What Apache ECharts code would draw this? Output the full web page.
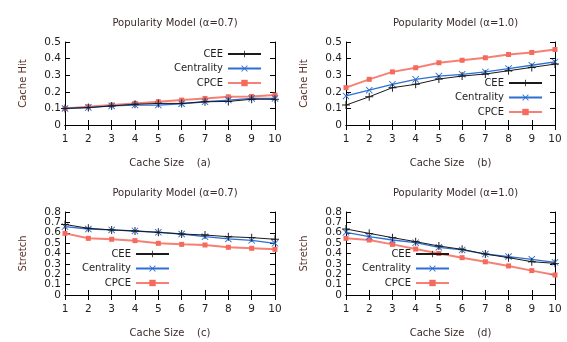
<!DOCTYPE html>
<html><head><meta charset="utf-8">
<script src="https://cdn.jsdelivr.net/npm/echarts@6/dist/echarts.min.js"></script>
<style>html,body{margin:0;padding:0;background:#fff}#c{width:567px;height:342px}</style>
</head><body><div id="c"></div>
<script>
const cacheSizes = [1, 2, 3, 4, 5, 6, 7, 8, 9, 10];
const seriesNames = ['CEE', 'Centrality', 'CPCE'];
const panelTitles = ['Popularity Model (α=0.7)', 'Popularity Model (α=1.0)', 'Popularity Model (α=0.7)', 'Popularity Model (α=1.0)'];
const panelLetters = ['(a)', '(b)', '(c)', '(d)'];
const yNames = ['Cache Hit', 'Cache Hit', 'Stretch', 'Stretch'];
const hitTicks = [0, 0.1, 0.2, 0.3, 0.4, 0.5];
const stretchTicks = [0, 0.1, 0.2, 0.3, 0.4, 0.5, 0.6, 0.7, 0.8];
const yTicks = [hitTicks, hitTicks, stretchTicks, stretchTicks];

// (a) Cache hit, alpha = 0.7
const hitA_CEE = [0.10, 0.105, 0.115, 0.125, 0.13, 0.13, 0.14, 0.142, 0.155, 0.155];
const hitA_Centrality = [0.10, 0.105, 0.115, 0.12, 0.12, 0.128, 0.14, 0.15, 0.16, 0.16];
const hitA_CPCE = [0.10, 0.11, 0.12, 0.13, 0.14, 0.15, 0.16, 0.17, 0.172, 0.18];
// (b) Cache hit, alpha = 1.0
const hitB_CEE = [0.12, 0.17, 0.225, 0.245, 0.277, 0.295, 0.307, 0.327, 0.347, 0.367];
const hitB_Centrality = [0.175, 0.21, 0.245, 0.275, 0.295, 0.305, 0.32, 0.34, 0.36, 0.38];
const hitB_CPCE = [0.225, 0.275, 0.32, 0.345, 0.375, 0.39, 0.405, 0.425, 0.437, 0.455];
// (c) Stretch, alpha = 0.7
const strC_CEE = [0.68, 0.643, 0.627, 0.617, 0.604, 0.588, 0.578, 0.562, 0.553, 0.537];
const strC_Centrality = [0.66, 0.636, 0.627, 0.617, 0.604, 0.588, 0.562, 0.54, 0.527, 0.498];
const strC_CPCE = [0.594, 0.546, 0.537, 0.524, 0.498, 0.488, 0.482, 0.46, 0.45, 0.44];
// (d) Stretch, alpha = 1.0
const strD_CEE = [0.636, 0.594, 0.553, 0.514, 0.472, 0.44, 0.395, 0.36, 0.321, 0.305];
const strD_Centrality = [0.604, 0.562, 0.53, 0.504, 0.46, 0.434, 0.395, 0.37, 0.344, 0.315];
const strD_CPCE = [0.546, 0.53, 0.488, 0.443, 0.40, 0.36, 0.32, 0.28, 0.235, 0.193];

const panelData = [
  [hitA_CEE, hitA_Centrality, hitA_CPCE],
  [hitB_CEE, hitB_Centrality, hitB_CPCE],
  [strC_CEE, strC_Centrality, strC_CPCE],
  [strD_CEE, strD_Centrality, strD_CPCE]
];

const grids = [
  {left: 65, top: 42, width: 210, height: 83},
  {left: 346, top: 42, width: 209, height: 83},
  {left: 65, top: 212, width: 210, height: 83},
  {left: 346, top: 212, width: 209, height: 83}
];
const legendPos = [
  {right: 305, top: 49},
  {right: 24, top: 78},
  {right: 397, top: 249},
  {right: 117, top: 249}
];

const colors = ['#1a1a1a', '#2e6fd3', '#f56a5c'];
const lineWidths = [1, 1.3, 2];
const symbols = [
  'path://M4.4,0H5.6V4.4H10V5.6H5.6V10H4.4V5.6H0V4.4H4.4Z',
  'path://M0,0.9L0.9,0L5,4.1L9.1,0L10,0.9L5.9,5L10,9.1L9.1,10L5,5.9L0.9,10L0,9.1L4.1,5Z',
  'rect'
];
const symbolSizes = [8, 7, 5];
const font = 'DejaVu Sans';
const textColor = '#1e1e1e';

const isEven = v => Math.round(v * 10) % 2 === 0;
const xAxes = [], yAxes = [], series = [], titles = [], legends = [];
grids.forEach((g, i) => {
  const tick = {show: true, inside: true, length: 5, lineStyle: {color: '#000', width: 1}};
  const line = {show: true, lineStyle: {color: '#000', width: 1}};
  const ticks = yTicks[i];
  const yMax = ticks[ticks.length - 1];
  const labelBase = {color: textColor, fontFamily: font, fontSize: 10.5, margin: 4,
    showMinLabel: true, showMaxLabel: true, hideOverlap: false};
  xAxes.push({
    type: 'value', gridIndex: i, min: 1, max: 10, interval: 1, position: 'bottom',
    axisLine: line, axisTick: tick, splitLine: {show: false},
    axisLabel: {color: textColor, fontFamily: font, fontSize: 10.5, margin: 9,
      showMinLabel: true, showMaxLabel: true, hideOverlap: false},
    name: 'Cache Size    ' + panelLetters[i], nameLocation: 'middle', nameGap: 33,
    nameTextStyle: {color: '#3a2a2a', fontFamily: font, fontSize: 10}
  });
  xAxes.push({
    type: 'value', gridIndex: i, min: 1, max: 10, interval: 1, position: 'top',
    axisLine: line, axisTick: tick, splitLine: {show: false}, axisLabel: {show: false}
  });
  // left axis: line, ticks and even labels
  yAxes.push({
    type: 'value', gridIndex: i, min: 0, max: yMax, interval: 0.1, position: 'left',
    axisLine: line, axisTick: tick, splitLine: {show: false},
    axisLabel: Object.assign({}, labelBase, {
      customValues: ticks.filter(isEven),
      formatter: v => isEven(v) ? String(+v.toFixed(1)) : ''
    }),
    name: yNames[i], nameLocation: 'middle', nameGap: 37, nameRotate: 90,
    nameTextStyle: {color: '#5a3328', fontFamily: font, fontSize: 10}
  });
  // right mirror axis
  yAxes.push({
    type: 'value', gridIndex: i, min: 0, max: yMax, interval: 0.1, position: 'right',
    axisLine: line, axisTick: tick, splitLine: {show: false}, axisLabel: {show: false}
  });
  // left overlay axis: odd labels only
  yAxes.push({
    type: 'value', gridIndex: i, min: 0, max: yMax, interval: 0.1, position: 'left',
    axisLine: {show: false}, axisTick: {show: false}, splitLine: {show: false},
    axisLabel: Object.assign({}, labelBase, {
      customValues: ticks.filter(v => !isEven(v)),
      formatter: v => isEven(v) ? '' : String(+v.toFixed(1))
    })
  });
  titles.push({
    text: panelTitles[i], left: g.left + g.width / 2, top: g.top - 29, textAlign: 'center',
    textStyle: {color: '#3a2a2a', fontFamily: font, fontSize: 10, fontWeight: 'normal'}
  });
  legends.push(Object.assign({
    data: seriesNames, orient: 'vertical', align: 'right', itemWidth: 33, itemHeight: 8,
    itemGap: 4.5, padding: 0, selectedMode: false,
    textStyle: {color: textColor, fontFamily: font, fontSize: 10}
  }, legendPos[i]));
  seriesNames.forEach((name, s) => {
    series.push({
      name: name, type: 'line', xAxisIndex: 2 * i, yAxisIndex: 3 * i,
      data: cacheSizes.map((x, k) => [x, panelData[i][s][k]]),
      symbol: symbols[s], symbolSize: symbolSizes[s], showSymbol: true,
      lineStyle: {color: colors[s], width: lineWidths[s], opacity: s === 2 ? 0.85 : 1},
      itemStyle: {color: colors[s]},
      z: s === 2 ? 1 : (s === 1 ? 2 : 3),
      animation: false
    });
  });
});

const chart = echarts.init(document.getElementById('c'), null, {renderer: 'canvas'});
chart.setOption({
  animation: false,
  backgroundColor: '#fff',
  title: titles,
  legend: legends,
  grid: grids,
  xAxis: xAxes,
  yAxis: yAxes,
  series: series
});
</script></body></html>
